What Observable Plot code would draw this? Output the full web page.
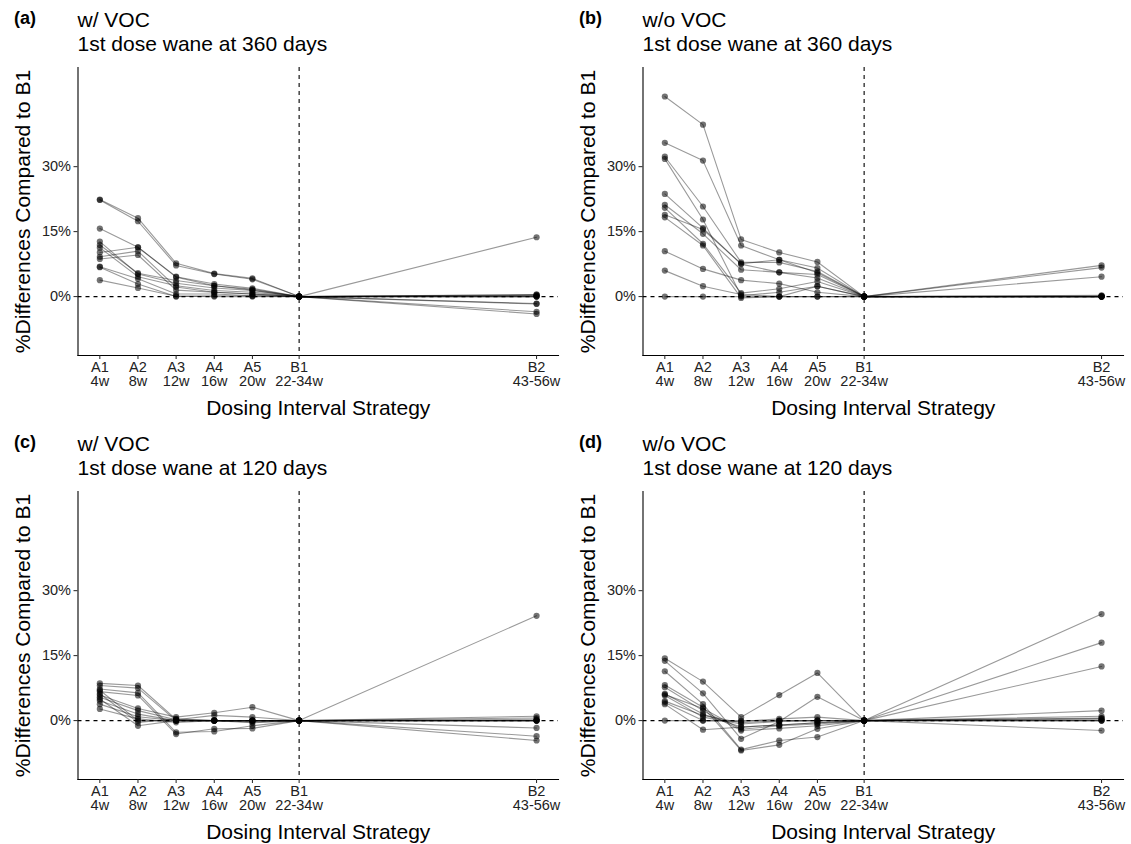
<!DOCTYPE html>
<html>
<head>
<meta charset="utf-8">
<script src="https://cdn.jsdelivr.net/npm/d3@7"></script>
<script src="https://cdn.jsdelivr.net/npm/@observablehq/plot@0.6"></script>
<style>
  body { margin: 0; background: #fff; font-family: "Liberation Sans", Arial, sans-serif; }
  #root { position: relative; width: 1131px; height: 844px; overflow: hidden; }
  .panel { position: absolute; width: 565px; height: 420px; }
  .tag { position: absolute; left: 14px; top: 8px; font-size: 18px; font-weight: bold; line-height: 20px; color: #000; }
  .title { position: absolute; left: 77.5px; top: 8px; font-size: 21px; line-height: 24px; color: #000; white-space: pre; }
  .panel svg { position: absolute; left: 0; top: 0; }
</style>
</head>
<body>
<div id="root"></div>
<script>
// Categories (dosing interval strategies) and their interval labels
const strategies = ["A1", "A2", "A3", "A4", "A5", "B1", "B2"];
const intervals = ["4w", "8w", "12w", "16w", "20w", "22-34w", "43-56w"];
// x position of each strategy in weeks (data units)
const weeks = [4, 8, 12, 16, 20, 24.9, 49.8];
const yTicks = [0, 15, 30];

// Panel titles
const tags = ["(a)", "(b)", "(c)", "(d)"];
const voc = ["w/ VOC", "w/o VOC", "w/ VOC", "w/o VOC"];
const wane = ["1st dose wane at 360 days", "1st dose wane at 360 days", "1st dose wane at 120 days", "1st dose wane at 120 days"];

// % differences compared to B1, one row per scenario, values for A1..A5, B1, B2
const panelA = [
  [22.4, 18.1, 7.7, 5.3, 4.2, 0, 0.4],
  [22.3, 17.4, 7.2, 5.2, 4.0, 0, -1.6],
  [15.7, 11.4, 4.6, 2.9, 1.9, 0, 0.2],
  [12.7, 5.2, 3.1, 2.0, 1.4, 0, -3.5],
  [11.9, 5.4, 3.7, 2.5, 1.5, 0, 0],
  [11.3, 4.6, 2.5, 1.4, 1.0, 0, 13.7],
  [10.2, 11.4, 4.5, 2.5, 1.7, 0, -4.0],
  [9.2, 10.5, 2.2, 1.0, 0.6, 0, 0.5],
  [8.7, 9.6, 1.5, 1.0, 0.6, 0, 0],
  [6.9, 4.1, 0.6, 0.6, 0.2, 0, -1.7],
  [6.8, 2.9, 0, 0.2, 0.2, 0, 0.3],
  [3.8, 2.0, 0.1, 0, 0, 0, 0]
];
const panelB = [
  [46.2, 39.7, 13.2, 10.2, 8.0, 0, 7.2],
  [35.5, 31.4, 11.8, 8.5, 6.6, 0, 6.7],
  [32.3, 20.8, 7.9, 7.9, 5.8, 0, 4.6],
  [31.8, 17.8, 0.2, 1.0, 2.4, 0, 0.2],
  [23.7, 15.8, 7.5, 5.6, 5.1, 0, 0],
  [21.2, 14.5, 6.2, 5.6, 4.3, 0, 0],
  [20.5, 12.2, 0.8, 1.8, 3.5, 0, 0.3],
  [18.9, 15.5, 7.6, 8.5, 5.5, 0, 0],
  [18.3, 11.8, -0.3, 0, 2.4, 0, 0],
  [10.5, 6.4, 3.8, 3.0, 1.0, 0, 0],
  [6.0, 2.4, 0.5, 0, 0, 0, 0],
  [0, 0, 0, 0, 0, 0, 0]
];
const panelC = [
  [8.6, 8.1, 0.3, 0, 0, 0, 24.2],
  [8.1, 7.5, 0, 0, 0, 0, 1.0],
  [7.3, 6.4, -2.7, -2.5, -1.2, 0, -4.6],
  [6.7, 5.8, -3.1, -1.9, -1.8, 0, -3.6],
  [5.9, 2.8, 0.8, 1.8, 3.1, 0, -1.7],
  [5.4, 2.3, 0.2, 1.2, 0.8, 0, 0.6],
  [4.6, 1.5, 0, 0, 0, 0, 0],
  [3.8, 0.9, 0, 0, -0.5, 0, 0],
  [2.7, 0.4, -0.4, 0, 0, 0, 0.3],
  [7.0, 0, 0, 0, 0, 0, 0],
  [6.2, -0.4, 0.4, 0, 0, 0, 0],
  [5.0, -1.2, 0, 0, -0.3, 0, 0]
];
const panelD = [
  [14.4, 9.0, 0.8, 5.9, 11.0, 0, 0.6],
  [13.8, 6.3, -4.2, -0.2, 5.5, 0, 1.0],
  [11.4, 3.8, -6.7, -4.6, -3.8, 0, 24.6],
  [8.2, 3.1, -6.9, -5.6, -1.9, 0, 18.0],
  [7.7, 2.3, -2.3, -1.8, -1.2, 0, 12.5],
  [6.2, 1.5, -1.5, -1.0, -0.5, 0, 2.3],
  [5.8, 0.8, -0.8, -0.2, 0, 0, 0],
  [4.2, 0, -0.2, 0.4, 0.8, 0, -2.3],
  [3.8, -2.1, -1.5, -1.0, -0.5, 0, 0.3],
  [0, 0, 0, 0, 0, 0, 0],
  [6.0, 2.8, -2.0, -1.2, -0.8, 0, 0],
  [4.5, 1.2, -0.5, 0, 0, 0, 0.5]
];

const panels = [panelA, panelB, panelC, panelD];
const xLabel = new Map(weeks.map((w, i) => [w, strategies[i] + "\n" + intervals[i]]));
const b1 = weeks[strategies.indexOf("B1")];

function makePlot(series) {
  const rows = series.flatMap((vals, s) => vals.map((v, i) => ({s, x: weeks[i], y: v})));
  return Plot.plot({
    width: 565,
    height: 420,
    marginLeft: 77.5,
    marginRight: 7,
    marginTop: 67,
    marginBottom: 65,
    style: {fontFamily: "'Liberation Sans', Arial, sans-serif", fontSize: "14.5px", color: "#000", background: "transparent", overflow: "visible"},
    x: {domain: [1.71, 52.1]},
    y: {domain: [-13.6, 52.9]},
    marks: [
      Plot.ruleY([0], {stroke: "#000", strokeWidth: 1.1, strokeDasharray: "4,4"}),
      Plot.ruleX([b1], {stroke: "#000", strokeWidth: 1.1, strokeDasharray: "4,4"}),
      Plot.line(rows, {x: "x", y: "y", z: "s", stroke: "#000", strokeOpacity: 0.4, strokeWidth: 1.1}),
      Plot.dot(rows, {x: "x", y: "y", r: 3.1, fill: "#000", fillOpacity: 0.55, stroke: "none"}),
      Plot.frame({anchor: "left", stroke: "#000", strokeWidth: 1.1}),
      Plot.frame({anchor: "bottom", stroke: "#000", strokeWidth: 1.1}),
      Plot.axisX({ticks: weeks, tickFormat: d => xLabel.get(d), tickSize: 4, tickPadding: 3, lineHeight: 0.95, fontSize: 14.5, fill: "#222", stroke: "#222", label: null}),
      Plot.axisY({ticks: yTicks, tickFormat: d => d + "%", tickSize: 4, tickPadding: 3, fontSize: 14.5, fill: "#222", stroke: "#222", label: null}),
      Plot.text(["Dosing Interval Strategy"], {frameAnchor: "bottom", dy: 53, fontSize: 21, fill: "#000", lineAnchor: "middle"}),
      Plot.text(["%Differences Compared to B1"], {frameAnchor: "left", dx: -55, rotate: -90, fontSize: 21, fill: "#000", textAnchor: "middle"})
    ]
  });
}

const root = document.getElementById("root");
const offsets = [[0, 0], [565, 0], [0, 424], [565, 424]];
panels.forEach((series, k) => {
  const div = document.createElement("div");
  div.className = "panel";
  div.style.left = offsets[k][0] + "px";
  div.style.top = offsets[k][1] + "px";
  div.appendChild(makePlot(series));
  const tag = document.createElement("div");
  tag.className = "tag";
  tag.textContent = tags[k];
  div.appendChild(tag);
  const title = document.createElement("div");
  title.className = "title";
  title.textContent = voc[k] + "\n" + wane[k];
  div.appendChild(title);
  root.appendChild(div);
});
</script>
</body>
</html>
